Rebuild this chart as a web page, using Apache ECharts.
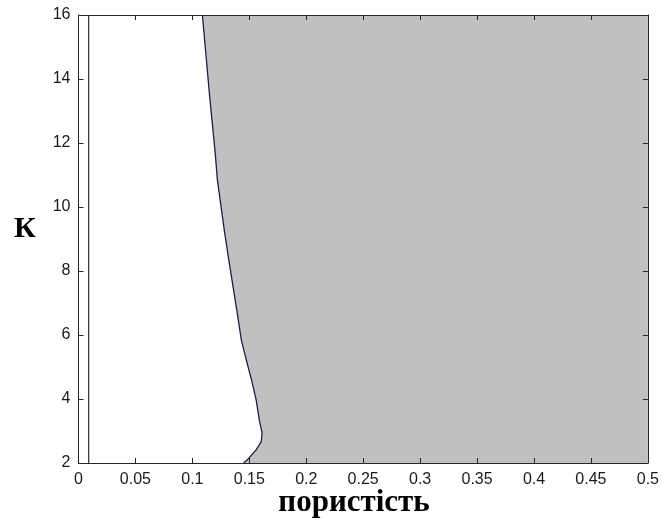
<!DOCTYPE html>
<html>
<head>
<meta charset="utf-8">
<script src="https://cdn.jsdelivr.net/npm/echarts@6/dist/echarts.min.js"></script>
<style>html,body{margin:0;padding:0;background:#fff}#c{width:662px;height:521px}</style>
</head>
<body>
<div id="c"></div>
<script>
// boundary curve (porosity x, K y)
const curveY = [2.0, 2.09, 2.41, 2.67, 2.95, 3.3, 3.97, 4.59, 5.13, 5.84, 6.78, 8.34, 9.28, 10.84, 11.7, 13.45, 14.0, 16.0];
const curveX = [0.145, 0.148, 0.156, 0.1605, 0.1612, 0.159, 0.156, 0.152, 0.148, 0.143, 0.139, 0.132, 0.128, 0.122, 0.120, 0.1152, 0.1138, 0.1088];
// vertical reference line
const refLineX = [0.009, 0.009];
const refLineY = [2, 16];
// axes
const xRange = [0, 0.5];
const yRange = [2, 16];
const xStep = 0.05;
const yStep = 2;
const xLabel = 'пористість';
const yLabel = 'К';

const chart = echarts.init(document.getElementById('c'), null, {renderer: 'canvas'});
const curveData = curveX.map((x, i) => [x, curveY[i]]);
const refData = refLineX.map((x, i) => [x, refLineY[i]]);
const axisCol = '#262626';
const tickFont = {fontFamily: 'Liberation Sans, Arial, sans-serif', fontSize: 16, color: '#1a1a1a'};

function fmt(v) { return String(Math.round(v * 100) / 100); }

chart.setOption({
  animation: false,
  backgroundColor: '#fff',
  grid: {left: 78.5, right: 11.5, top: 15, bottom: 58, containLabel: false},
  xAxis: [
    {type: 'value', min: xRange[0], max: xRange[1], interval: xStep, z: 10,
     axisLine: {show: true, lineStyle: {color: axisCol, width: 1}},
     axisTick: {show: true, inside: true, length: 5, lineStyle: {color: axisCol}},
     axisLabel: Object.assign({margin: 9, formatter: fmt}, tickFont),
     splitLine: {show: false}},
    {type: 'value', position: 'top', min: xRange[0], max: xRange[1], interval: xStep, z: 10,
     axisLine: {show: true, onZero: false, lineStyle: {color: axisCol, width: 1}},
     axisTick: {show: true, inside: true, length: 5, lineStyle: {color: axisCol}},
     axisLabel: {show: false}, splitLine: {show: false}}
  ],
  yAxis: [
    {type: 'value', min: yRange[0], max: yRange[1], interval: yStep, z: 10,
     axisLine: {show: true, onZero: false, lineStyle: {color: axisCol, width: 1}},
     axisTick: {show: true, inside: true, length: 5, lineStyle: {color: axisCol}},
     axisLabel: Object.assign({margin: 8, formatter: fmt}, tickFont),
     splitLine: {show: false}},
    {type: 'value', position: 'right', min: yRange[0], max: yRange[1], interval: yStep, z: 10,
     axisLine: {show: true, onZero: false, lineStyle: {color: axisCol, width: 1}},
     axisTick: {show: true, inside: true, length: 5, lineStyle: {color: axisCol}},
     axisLabel: {show: false}, splitLine: {show: false}}
  ],
  graphic: [
    {type: 'text', style: {text: xLabel, x: 354, y: 503, textAlign: 'center', textVerticalAlign: 'middle',
      font: 'bold 31px "Liberation Serif", "Times New Roman", serif', fill: '#000'}},
    {type: 'text', style: {text: yLabel, x: 25, y: 229, textAlign: 'center', textVerticalAlign: 'middle',
      font: 'bold 30px "Liberation Serif", "Times New Roman", serif', fill: '#000'}}
  ],
  series: [
    {type: 'custom', z: 1, silent: true, clip: true,
     data: [[xRange[1], yRange[0]]],
     renderItem: function (params, api) {
       const pts = curveData.map(p => api.coord(p));
       pts.push(api.coord([xRange[1], yRange[1]]));
       pts.push(api.coord([xRange[1], yRange[0]]));
       return {type: 'polygon', shape: {points: pts}, style: {fill: '#c0c0c0', stroke: null}};
     }},
    {type: 'line', z: 3, data: curveData, showSymbol: false, symbol: 'none', clip: true,
     lineStyle: {color: '#1c1c4e', width: 1.3}},
    {type: 'line', z: 3, data: refData, showSymbol: false, symbol: 'none',
     lineStyle: {color: '#000', width: 1}}
  ]
});
</script>
</body>
</html>
